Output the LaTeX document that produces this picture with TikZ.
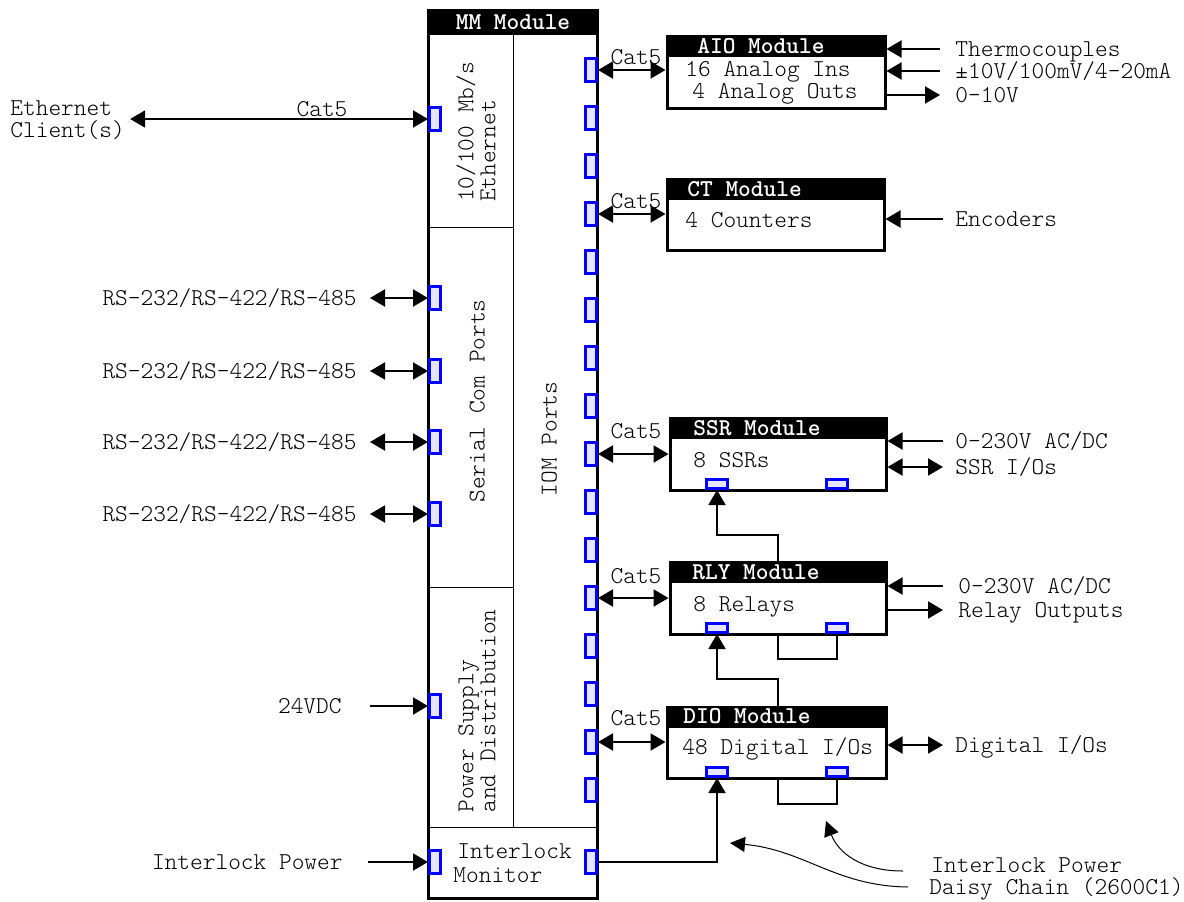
\documentclass[tikz,border=0pt]{standalone}
\usetikzlibrary{arrows.meta}
\definecolor{portfill}{RGB}{230,230,250}
\definecolor{portblue}{RGB}{0,0,255}
\begin{document}
\begin{tikzpicture}[x=0.5pt,y=-0.5pt,
  fnt/.style={font=\ttfamily\fontseries{l}\fontsize{12.1}{11}\selectfont},
  lbl/.style={fnt, inner sep=0pt, text height=8pt, text depth=0.5pt},
  mlbl/.style={fnt, inner sep=0pt, align=left},
  ttl/.style={lbl, font=\ttfamily\fontseries{b}\fontsize{12.1}{11}\selectfont, text=white},
  modbox/.style={draw=black, fill=white, line width=1.5pt, inner sep=0pt},
  port/.style={draw=portblue, fill=portfill, line width=1.5pt, minimum width=5.5pt, minimum height=11.5pt, inner sep=0pt},
  bport/.style={port, minimum width=10.5pt, minimum height=4.5pt},
  thinln/.style={line width=0.5pt},
  wire/.style={line width=1pt},
  arr/.style={wire, -{Triangle[length=7.5pt,width=8.5pt]}},
  darr/.style={wire, {Triangle[length=7.5pt,width=8.5pt]}-{Triangle[length=7.5pt,width=8.5pt]}},
  curvearr/.style={line width=0.5pt, -{Triangle[length=7.5pt,width=7.5pt]}}
]
\useasboundingbox (0,0) rectangle (1184,901);

% ---------------- MM module ----------------
\node[modbox, minimum width=84.5pt, minimum height=444pt] (mm) at (512.5,454) {};
\fill[black] (mm.north west) rectangle (597,35);
\node[ttl] (mmt) at (513,22) {MM Module};
\draw[thinln] (513,35) -- (513,827);
\draw[thinln] (428,227) -- (513,227);
\draw[thinln] (428,587) -- (513,587);
\draw[thinln] (428,827) -- (597,827);
\node[mlbl, rotate=90] (eth) at (476,132) {10/100 Mb/s\\Ethernet};
\node[lbl, rotate=90] (ser) at (477,401) {Serial Com Ports};
\node[mlbl, rotate=90] (psu) at (477,711) {Power Supply\\and Distribution};
\node[lbl, rotate=90] (iom) at (549,439) {IOM Ports};
\node[mlbl, anchor=west] (ilm) at (453,863) {\hspace*{2pt}Interlock\\[1pt]Monitor};

% ports on the left
\node[port] (le) at (435,119) {};
\node[port] (s1) at (435,298) {};
\node[port] (s2) at (435,371) {};
\node[port] (s3) at (435,442) {};
\node[port] (s4) at (435,514) {};
\node[port] (pw) at (435,706) {};
\node[port] (il) at (435,862) {};
% ports on the right
\foreach \i in {0,...,15} \node[port] (r\i) at (591,{70+48*\i}) {};
\node[port] (ir) at (591,862) {};

% ---------------- left side labels ----------------
\node[mlbl, anchor=west] (ethc) at (10,120) {Ethernet\\Client(s)};
\draw[darr] ([xshift=2.5pt]ethc.east |- le.west) -- (le.west);
\node[lbl] (ec5) at (322,109) {Cat5};
\foreach \s/\y in {s1/298,s2/371,s3/442,s4/514}{
  \node[lbl, anchor=east] (l\s) at (357,\y) {RS-232/RS-422/RS-485};
  \draw[darr] ([xshift=6.5pt]l\s.east) -- (\s.west);
}
\node[lbl, anchor=east] (v24) at (342,706) {24VDC};
\draw[arr] ([xshift=14pt]v24.east) -- (pw.west);
\node[lbl, anchor=east] (ilp) at (343,862) {Interlock Power};
\draw[arr] ([xshift=12.5pt]ilp.east) -- (il.west);

% ---------------- AIO ----------------
\node[modbox, minimum width=109pt, minimum height=36pt] (aio) at (776,72) {};
\fill[black] (aio.north west) rectangle (885,57);
\node[ttl, anchor=west] (aiot) at (697,46) {AIO Module};
\node[lbl, anchor=west] (aio1) at (685,69) {16 Analog Ins};
\node[lbl, anchor=west] (aio2) at (692,91) {4 Analog Outs};
\node[lbl] (c1) at (636,57) {Cat5};
\draw[darr] (r0.east) -- (r0.east -| aio.west);
\node[lbl, anchor=west] (thc) at (955,49) {Thermocouples};
\node[lbl, anchor=west] (vin) at (955,71) {±10V/100mV/4-20mA};
\node[lbl, anchor=west] (vout) at (955,95) {0-10V};
\draw[arr] ([xshift=-7.5pt]thc.west) -- (thc.west -| aio.east);
\draw[arr] ([xshift=-7.5pt]vin.west) -- (vin.west -| aio.east);
\draw[arr] (vout.west -| aio.east) -- ([xshift=-7.5pt]vout.west);

% ---------------- CT ----------------
\node[modbox, minimum width=108.5pt, minimum height=35.5pt] (ct) at (775.5,214.5) {};
\fill[black] (ct.north west) rectangle (884,200);
\node[ttl, anchor=west] (ctt) at (687,189) {CT Module};
\node[lbl, anchor=west] (ct1) at (685,220) {4 Counters};
\node[lbl] (c2) at (636,201) {Cat5};
\draw[darr] (r3.east) -- (r3.east -| ct.west);
\node[lbl, anchor=west] (enc) at (955,219) {Encoders};
\draw[arr] ([xshift=-6pt]enc.west) -- (enc.west -| ct.east);

% ---------------- SSR ----------------
\node[modbox, minimum width=108pt, minimum height=36pt] (ssr) at (778,454) {};
\fill[black] (ssr.north west) rectangle (886,439);
\node[ttl, anchor=west] (ssrt) at (693,428) {SSR Module};
\node[lbl, anchor=west] (ssr1) at (693,460) {8 SSRs};
\node[bport] (ssrl) at (717,484) {};
\node[bport] (ssrr) at (837,484) {};
\node[lbl] (c3) at (636,431) {Cat5};
\draw[darr] (r8.east) -- (r8.east -| ssr.west);
\node[lbl, anchor=west] (ssrp) at (955,441) {0-230V AC/DC};
\node[lbl, anchor=west] (ssrio) at (955,467) {SSR I/Os};
\draw[arr] ([xshift=-6pt]ssrp.west) -- (ssrp.west -| ssr.east);
\draw[darr] (ssrio.west -| ssr.east) -- ([xshift=-6pt]ssrio.west);

% ---------------- RLY ----------------
\node[modbox, minimum width=108pt, minimum height=36pt] (rly) at (778,598) {};
\fill[black] (rly.north west) rectangle (886,583);
\node[ttl, anchor=west] (rlyt) at (692,572) {RLY Module};
\node[lbl, anchor=west] (rly1) at (693,604) {8 Relays};
\node[bport] (rlyl) at (717,628) {};
\node[bport] (rlyr) at (837,628) {};
\node[lbl] (c4) at (636,576) {Cat5};
\draw[darr] (r11.east) -- (r11.east -| rly.west);
\node[lbl, anchor=west] (rlyp) at (958,586) {0-230V AC/DC};
\node[lbl, anchor=west] (rlyo) at (958,610) {Relay Outputs};
\draw[arr] ([xshift=-7.5pt]rlyp.west) -- (rlyp.west -| rly.east);
\draw[arr] (rlyo.west -| rly.east) -- ([xshift=-7.5pt]rlyo.west);
\draw[wire] (rly.south) -- ++(0,23) -| (rlyr.south);
\draw[arr] (rly.north) -- ++(0,-26) -| (ssrl.south);

% ---------------- DIO ----------------
\node[modbox, minimum width=109.5pt, minimum height=35.5pt] (dio) at (776.5,742.5) {};
\fill[black] (dio.north west) rectangle (886,728);
\node[ttl, anchor=west] (diot) at (683,716) {DIO Module};
\node[lbl, anchor=west] (dio1) at (682,747) {48 Digital I/Os};
\node[bport] (diol) at (717,772) {};
\node[bport] (dior) at (837,772) {};
\node[lbl] (c5) at (636,718) {Cat5};
\draw[darr] (r14.east) -- (r14.east -| dio.west);
\node[lbl, anchor=west] (dioio) at (955,745) {Digital I/Os};
\draw[darr] (dioio.west -| dio.east) -- ([xshift=-6pt]dioio.west);
\draw[wire] ([xshift=0.5pt]dio.south) -- ++(0,24) -| (dior.south);
\draw[arr] ([xshift=0.5pt]dio.north) -- ++(0,-27) -| (rlyl.south);

% interlock chain
\draw[arr] (ir.east) -| (diol.south);

% ---------------- annotation ----------------
\node[mlbl, anchor=west] (dc) at (929,879) {\hspace*{1pt}Interlock Power\\Daisy Chain (2600C1)};
\coordinate (k1) at (903,871);
\coordinate (k2) at (908,887);
\coordinate (t1) at (826,821);
\coordinate (t2) at (730,843);
\draw[curvearr] (k1) .. controls (860,871) and (838,852) .. (t1);
\draw[curvearr] (k2) .. controls (835,886) and (805,850) .. (t2);
\end{tikzpicture}
\end{document}
